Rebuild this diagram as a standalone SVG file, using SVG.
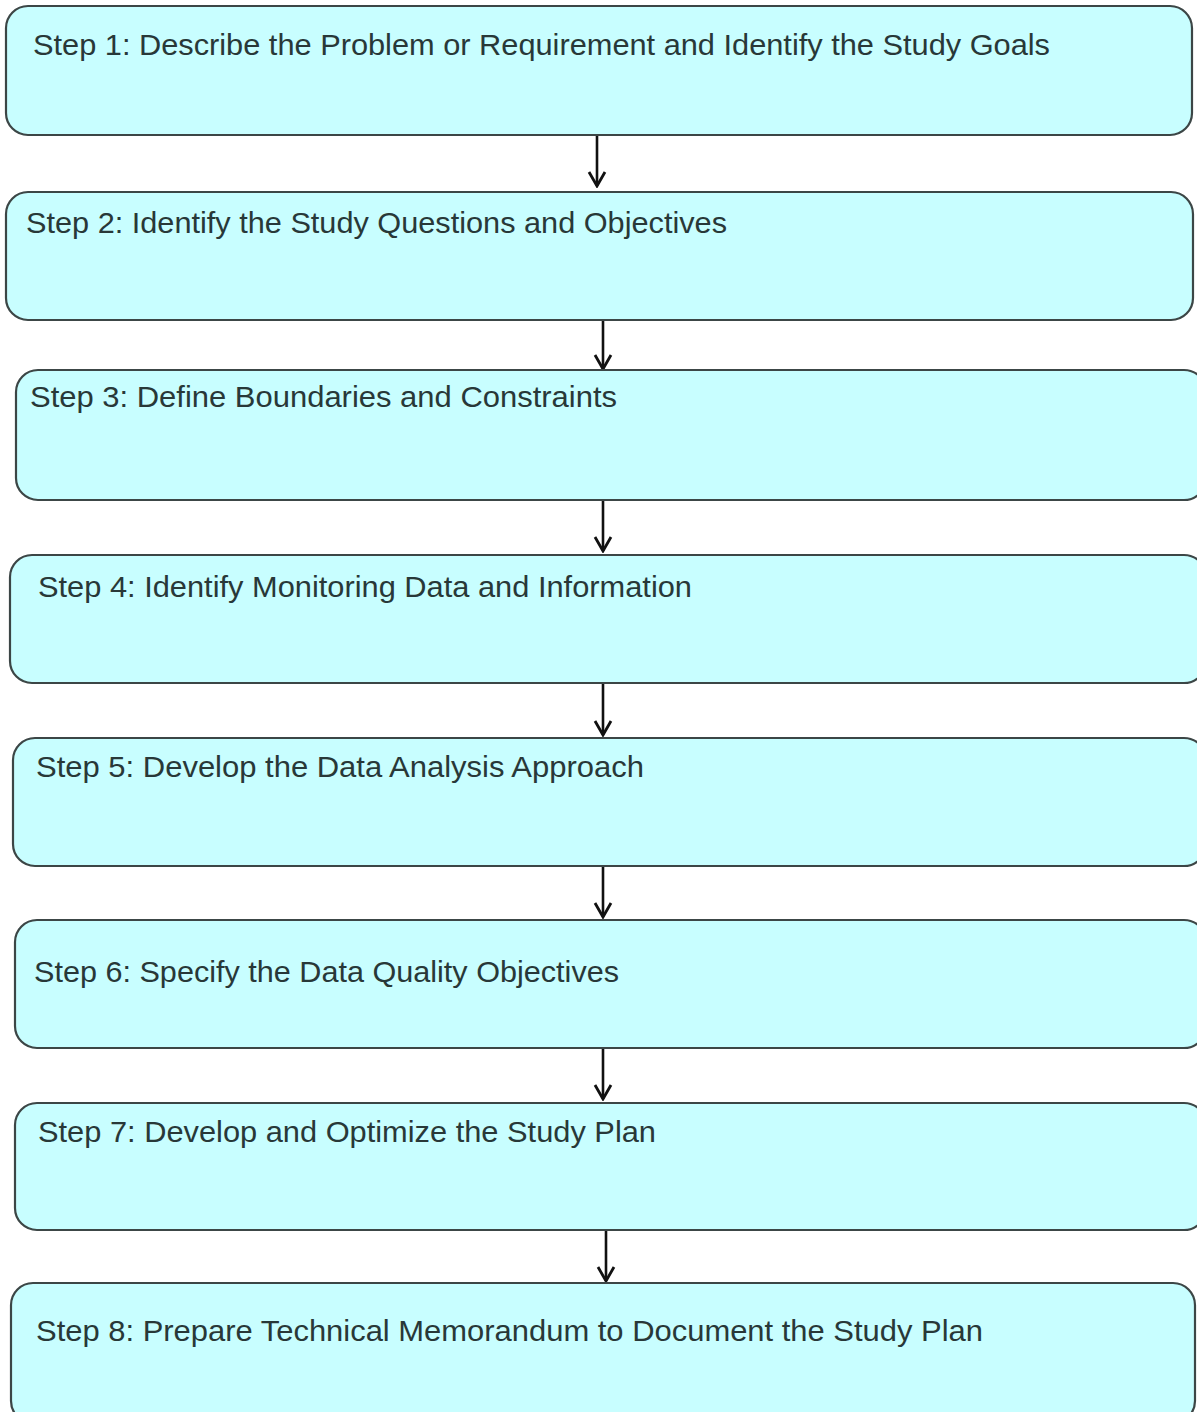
<svg xmlns="http://www.w3.org/2000/svg" width="1197" height="1412" viewBox="0 0 1197 1412">
<defs>
<style>
.box{fill:#c8feff;stroke:#3c4646;stroke-width:2.2}
.lbl{font-family:"Liberation Sans",Arial,sans-serif;font-size:30px;fill:#283838}
.conn{stroke:#111;stroke-width:2.6;fill:none}
</style>
<marker id="ah" viewBox="0 0 20 20" refX="18" refY="10" markerWidth="20" markerHeight="20" markerUnits="userSpaceOnUse" orient="auto">
<path d="M4,2 L18,10 L4,18" fill="none" stroke="#111" stroke-width="2.8"/>
</marker>
</defs>
<rect width="1197" height="1412" fill="#ffffff"/>
<g id="connectors">
<line class="conn" x1="597" y1="136" x2="597" y2="186" marker-end="url(#ah)"/>
<line class="conn" x1="603" y1="321" x2="603" y2="369" marker-end="url(#ah)"/>
<line class="conn" x1="603" y1="501" x2="603" y2="551" marker-end="url(#ah)"/>
<line class="conn" x1="603" y1="684" x2="603" y2="735" marker-end="url(#ah)"/>
<line class="conn" x1="603" y1="867" x2="603" y2="917" marker-end="url(#ah)"/>
<line class="conn" x1="603" y1="1049" x2="603" y2="1099" marker-end="url(#ah)"/>
<line class="conn" x1="606" y1="1231" x2="606" y2="1281" marker-end="url(#ah)"/>
</g>
<g id="step1"><rect class="box" x="6" y="6" width="1186" height="129" rx="22"/><text class="lbl" x="33" y="55" textLength="1017" lengthAdjust="spacingAndGlyphs">Step 1: Describe the Problem or Requirement and Identify the Study Goals</text></g>
<g id="step2"><rect class="box" x="6" y="192" width="1187" height="128" rx="22"/><text class="lbl" x="26" y="233" textLength="701" lengthAdjust="spacingAndGlyphs">Step 2: Identify the Study Questions and Objectives</text></g>
<g id="step3"><rect class="box" x="16" y="370" width="1190" height="130" rx="22"/><text class="lbl" x="30" y="407" textLength="587" lengthAdjust="spacingAndGlyphs">Step 3: Define Boundaries and Constraints</text></g>
<g id="step4"><rect class="box" x="10" y="555" width="1196" height="128" rx="22"/><text class="lbl" x="38" y="597" textLength="654" lengthAdjust="spacingAndGlyphs">Step 4: Identify Monitoring Data and Information</text></g>
<g id="step5"><rect class="box" x="13" y="738" width="1193" height="128" rx="22"/><text class="lbl" x="36" y="777" textLength="608" lengthAdjust="spacingAndGlyphs">Step 5: Develop the Data Analysis Approach</text></g>
<g id="step6"><rect class="box" x="15" y="920" width="1191" height="128" rx="22"/><text class="lbl" x="34" y="982" textLength="585" lengthAdjust="spacingAndGlyphs">Step 6: Specify the Data Quality Objectives</text></g>
<g id="step7"><rect class="box" x="15" y="1103" width="1191" height="127" rx="22"/><text class="lbl" x="38" y="1142" textLength="618" lengthAdjust="spacingAndGlyphs">Step 7: Develop and Optimize the Study Plan</text></g>
<g id="step8"><rect class="box" x="11" y="1283" width="1184" height="140" rx="22"/><text class="lbl" x="36" y="1341" textLength="947" lengthAdjust="spacingAndGlyphs">Step 8: Prepare Technical Memorandum to Document the Study Plan</text></g>
</svg>
